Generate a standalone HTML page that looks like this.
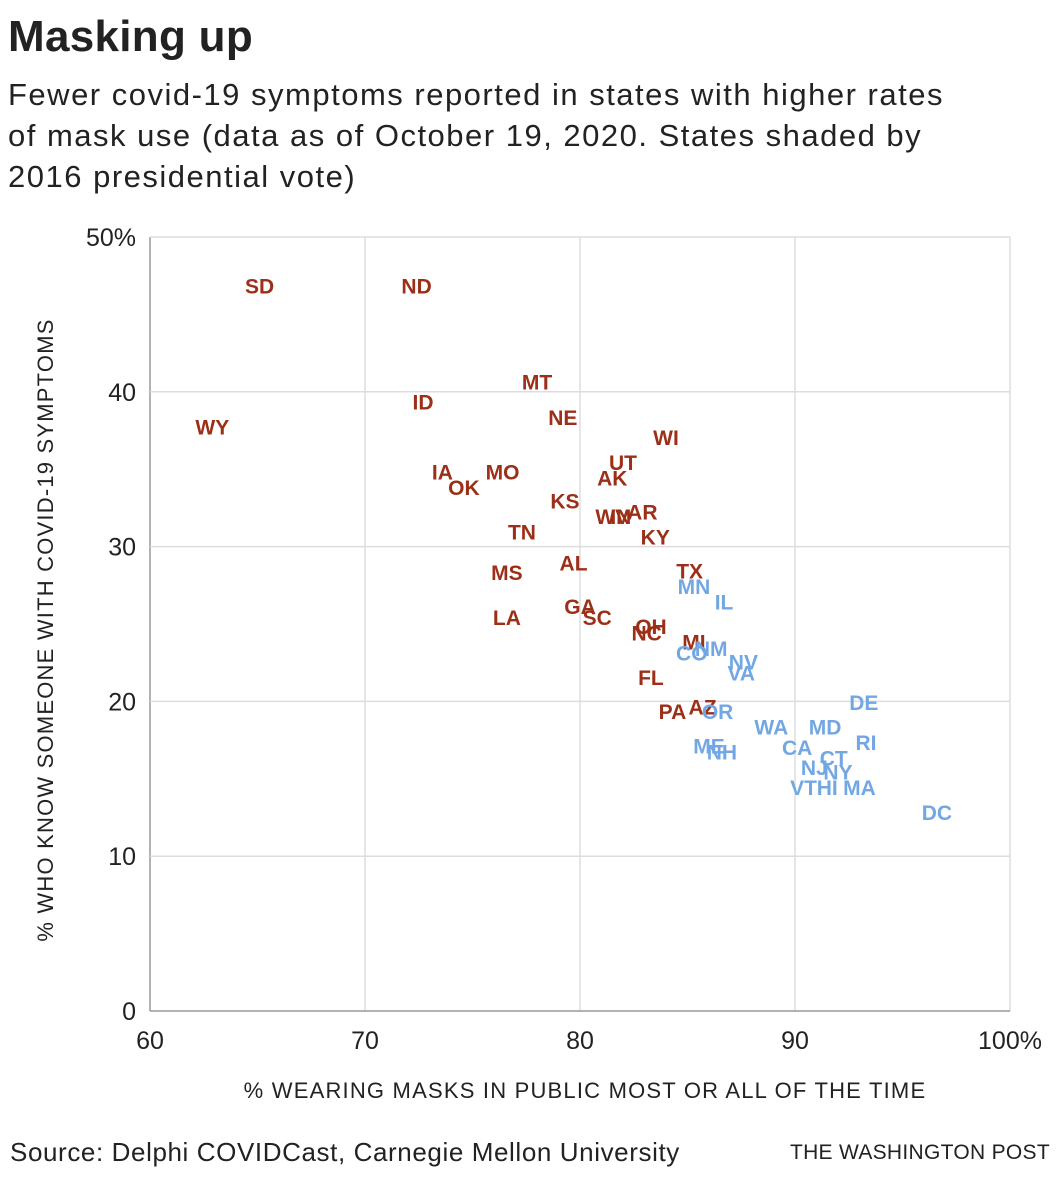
<!DOCTYPE html>
<html><head><meta charset="utf-8">
<style>
body{margin:0;background:#fff;font-family:"Liberation Sans",sans-serif;}
#wrap{position:relative;width:1056px;height:1186px;overflow:hidden}
h1{position:absolute;left:8px;top:12px;margin:0;font-size:44px;font-weight:bold;color:#222;letter-spacing:0.3px}
.sub{position:absolute;left:8px;top:74px;font-size:31px;line-height:41px;color:#222;width:1040px;letter-spacing:1.5px}
.src{position:absolute;left:10px;top:1137px;font-size:26px;color:#222;letter-spacing:0.6px}
.wp{position:absolute;right:6px;top:1141px;font-size:21px;color:#222;letter-spacing:0.3px}
</style></head><body>
<div id="wrap">
<h1>Masking up</h1>
<div class="sub">Fewer covid-19 symptoms reported in states with higher rates<br>of mask use (data as of October 19, 2020. States shaded by<br>2016 presidential vote)</div>
<svg id="chart" width="1056" height="1186" style="position:absolute;left:0;top:0"></svg>
<div class="src">Source: Delphi COVIDCast, Carnegie Mellon University</div>
<div class="wp">THE WASHINGTON POST</div>
</div>
<script>
const states=["SD","ND","MT","ID","WY","NE","WI","UT","IA","MO","AK","OK","KS","AR","WV","IN","TN","KY","AL","MS","TX","GA","SC","LA","OH","NC","MI","FL","AZ","PA",
"MN","IL","NM","CO","NV","VA","DE","OR","WA","MD","RI","ME","NH","CA","CT","NJ","NY","VT","HI","MA","DC"];
const maskPct=[65.1,72.4,78.0,72.7,62.9,79.2,84.0,82.0,73.6,76.4,81.5,74.6,79.3,82.9,81.5,81.9,77.3,83.5,79.7,76.6,85.1,80.0,80.8,76.6,83.3,83.1,85.3,83.3,85.7,84.3,
85.3,86.7,86.1,85.2,87.6,87.5,93.2,86.4,88.9,91.4,93.3,86.0,86.6,90.1,91.8,90.9,92.0,90.4,91.5,93.0,96.6];
const symptomPct=[46.8,46.8,40.6,39.3,37.7,38.3,37.0,35.4,34.8,34.8,34.4,33.8,32.9,32.2,31.9,31.9,30.9,30.6,28.9,28.3,28.4,26.1,25.4,25.4,24.8,24.4,23.8,21.5,19.6,19.3,
27.4,26.4,23.4,23.1,22.5,21.8,19.9,19.3,18.3,18.3,17.3,17.1,16.7,17.0,16.3,15.7,15.4,14.4,14.4,14.4,12.8];
const party=["R","R","R","R","R","R","R","R","R","R","R","R","R","R","R","R","R","R","R","R","R","R","R","R","R","R","R","R","R","R",
"D","D","D","D","D","D","D","D","D","D","D","D","D","D","D","D","D","D","D","D","D"];
const xTicks=[60,70,80,90,100];
const xTickLabels=["60","70","80","90","100%"];
const yTicks=[0,10,20,30,40,50];
const yTickLabels=["0","10","20","30","40","50%"];
const L=150,R=1010,T=237,B=1011;
const X=v=>L+(v-60)/40*(R-L);
const Y=v=>B-v/50*(B-T);
const svg=document.getElementById('chart');
const NS="http://www.w3.org/2000/svg";
function mk(t,a){const e=document.createElementNS(NS,t);for(const k in a)e.setAttribute(k,a[k]);svg.appendChild(e);return e;}
xTicks.forEach((v,i)=>{
 const l=mk('line',{x1:X(v),x2:X(v),y1:T,y2:B,stroke:i==0?'#999':'#ddd','stroke-width':1.5});
 
 
 const t=mk('text',{x:X(v),y:1049,'text-anchor':'middle','font-size':25,fill:'#222'});
 t.textContent=xTickLabels[i];
 
 
});
yTicks.forEach((v,i)=>{
 const l=mk('line',{x1:L,x2:R,y1:Y(v),y2:Y(v),stroke:i==0?'#999':'#ddd','stroke-width':1.5});
 
 
 const t=mk('text',{x:136,y:Y(v)+9,'text-anchor':'end','font-size':25,fill:'#222'});
 t.textContent=yTickLabels[i];
 
 
});
const xt=mk('text',{x:585,y:1098,'text-anchor':'middle','font-size':22,fill:'#222','letter-spacing':'1.2'});
xt.textContent="% WEARING MASKS IN PUBLIC MOST OR ALL OF THE TIME";


const yt=mk('text',{x:0,y:0,'text-anchor':'middle','font-size':22,fill:'#222','letter-spacing':'1.2',transform:'translate(53,630) rotate(-90)'});
yt.textContent="% WHO KNOW SOMEONE WITH COVID-19 SYMPTOMS";


states.forEach((s,i)=>{
 const t=mk('text',{x:X(maskPct[i]),y:Y(symptomPct[i])+7,'text-anchor':'middle','font-size':21,'font-weight':'bold',fill:party[i]=="R"?'#9c2f17':'#72a7e3'});
 t.textContent=s;
 
 
});
</script>
</body></html>
